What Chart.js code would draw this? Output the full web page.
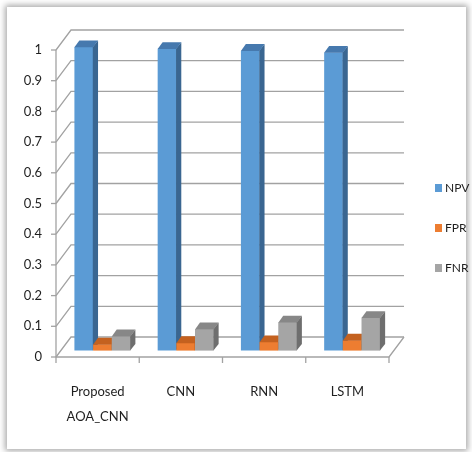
<!DOCTYPE html>
<html>
<head>
<meta charset="utf-8">
<title>NPV / FPR / FNR comparison</title>
<script src="https://cdn.jsdelivr.net/npm/chart.js@4/dist/chart.umd.min.js"></script>
<style>
  html, body { margin: 0; padding: 0; width: 472px; height: 452px; overflow: hidden; background: #ffffff; }
  #panel {
    position: absolute; left: 7px; top: 7px; width: 459px; height: 442px;
    background: #ffffff;
    box-shadow: 0 0 6px 2px rgba(0, 0, 0, 0.34);
  }
  #chart { position: absolute; left: 0; top: 0; }
</style>
</head>
<body>
<div id="panel"></div>
<canvas id="chart" width="472" height="452"></canvas>
<script>
// Models compared
const categories = [['Proposed', 'AOA_CNN'], 'CNN', 'RNN', 'LSTM'];

// Metric series
const seriesNames = ['NPV', 'FPR', 'FNR'];
const npvValues = [0.989, 0.983, 0.977, 0.971];
const fprValues = [0.020, 0.025, 0.028, 0.033];
const fnrValues = [0.047, 0.070, 0.092, 0.107];

// Value axis labels
const yTickLabels = ['0', '0.1', '0.2', '0.3', '0.4', '0.5', '0.6', '0.7', '0.8', '0.9', '1'];

const FONT = "Lato, 'Liberation Sans', Arial, sans-serif";
const TEXT_COLOR = '#1f1f1f';
const GRID_COLOR = '#a2a2a2';

// Oblique projection of the plot box: full depth offset, where the bars sit, how deep they are
const DEPTH = { x: 15, y: -20 };
const BAR_PLANE = 0.32;
const BAR_DEPTH = 0.33;

const faceColors = [
  { front: '#5b9bd5', side: '#3a6691', top: '#4679ae' },
  { front: '#ed7d31', side: '#a9551d', top: '#c4611f' },
  { front: '#a5a5a5', side: '#6e6e6e', top: '#878787' }
];

// Walls, floor and 3D columns
const depthPlugin = {
  id: 'depth3d',
  beforeDatasetsDraw(chart) {
    const ctx = chart.ctx;
    const area = chart.chartArea;
    const xs = chart.scales.x;
    const ys = chart.scales.y;

    ctx.save();
    ctx.strokeStyle = GRID_COLOR;
    ctx.lineWidth = 1.3;

    // side wall diagonals + back wall gridlines + front tick marks
    ys.ticks.forEach(t => {
      const py = ys.getPixelForValue(t.value);
      ctx.beginPath();
      ctx.moveTo(area.left, py);
      ctx.lineTo(area.left + DEPTH.x, py + DEPTH.y);
      ctx.lineTo(area.right + DEPTH.x, py + DEPTH.y);
      ctx.stroke();
      ctx.beginPath();
      ctx.moveTo(area.left - 5, py);
      ctx.lineTo(area.left, py);
      ctx.stroke();
    });

    // front value axis
    ctx.beginPath();
    ctx.moveTo(area.left, area.top);
    ctx.lineTo(area.left, area.bottom);
    ctx.stroke();

    // floor front and right edges
    ctx.beginPath();
    ctx.moveTo(area.left, area.bottom);
    ctx.lineTo(area.right, area.bottom);
    ctx.lineTo(area.right + DEPTH.x, area.bottom + DEPTH.y);
    ctx.stroke();

    // category boundary ticks
    for (let i = 0; i <= categories.length; i++) {
      const px = xs.getPixelForDecimal(i / categories.length);
      ctx.beginPath();
      ctx.moveTo(px, area.bottom);
      ctx.lineTo(px, area.bottom + 6);
      ctx.stroke();
    }

    // columns, painted left to right so nearer faces cover hidden ones
    const metas = chart.data.datasets.map((d, i) => chart.getDatasetMeta(i));
    const fx = DEPTH.x * BAR_PLANE, fy = DEPTH.y * BAR_PLANE;
    const dx = DEPTH.x * BAR_DEPTH, dy = DEPTH.y * BAR_DEPTH;
    for (let j = 0; j < categories.length; j++) {
      metas.forEach((meta, i) => {
        const bar = meta.data[j];
        const p = bar.getProps(['x', 'y', 'base', 'width'], true);
        const l = p.x - p.width / 2, r = p.x + p.width / 2;
        ctx.save();
        ctx.translate(fx, fy);
        bar.draw(ctx);
        ctx.fillStyle = faceColors[i].side;
        ctx.beginPath();
        ctx.moveTo(r - 0.3, p.y);
        ctx.lineTo(r + dx, p.y + dy);
        ctx.lineTo(r + dx, p.base + dy);
        ctx.lineTo(r - 0.3, p.base);
        ctx.closePath();
        ctx.fill();
        ctx.fillStyle = faceColors[i].top;
        ctx.beginPath();
        ctx.moveTo(l, p.y + 0.3);
        ctx.lineTo(r, p.y + 0.3);
        ctx.lineTo(r + dx, p.y + dy);
        ctx.lineTo(l + dx, p.y + dy);
        ctx.closePath();
        ctx.fill();
        ctx.restore();
      });
    }
    ctx.restore();
    return false;
  }
};

// Legend column on the right
const sideLegend = {
  id: 'sideLegend',
  afterDraw(chart) {
    const ctx = chart.ctx;
    const area = chart.chartArea;
    ctx.save();
    ctx.font = '12px ' + FONT;
    ctx.textBaseline = 'middle';
    ctx.textAlign = 'left';
    chart.data.datasets.forEach((ds, i) => {
      const cy = 188 + i * 40;
      const bx = area.right + 46;
      ctx.fillStyle = ds.backgroundColor;
      ctx.fillRect(bx, cy - 4, 7, 8);
      ctx.fillStyle = TEXT_COLOR;
      ctx.fillText(ds.label, bx + 10, cy + 0.5);
    });
    ctx.restore();
  }
};

const seriesValues = [npvValues, fprValues, fnrValues];

new Chart(document.getElementById('chart'), {
  type: 'bar',
  data: {
    labels: categories,
    datasets: seriesNames.map((name, i) => ({
      label: name,
      data: seriesValues[i],
      backgroundColor: faceColors[i].front,
      borderWidth: 0,
      barPercentage: 1.0,
      categoryPercentage: 0.673
    }))
  },
  options: {
    responsive: false,
    animation: false,
    devicePixelRatio: 1,
    layout: { padding: { top: 50, right: 83, left: 0, bottom: 0 } },
    plugins: {
      legend: { display: false },
      tooltip: { enabled: false }
    },
    scales: {
      x: {
        grid: { display: false, drawTicks: false },
        border: { display: false },
        ticks: {
          padding: 22,
          maxRotation: 0,
          autoSkip: false,
          color: TEXT_COLOR,
          font: { family: FONT, size: 13, lineHeight: '25px' }
        },
        afterFit(scale) { scale.height = 95; }
      },
      y: {
        min: 0,
        max: 1,
        grid: { display: false, drawTicks: false },
        border: { display: false },
        ticks: {
          stepSize: 0.1,
          padding: 14,
          color: TEXT_COLOR,
          font: { family: FONT, size: 13 },
          callback: (value, index) => yTickLabels[index]
        },
        afterFit(scale) { scale.width = 56; }
      }
    }
  },
  plugins: [depthPlugin, sideLegend]
});
</script>
</body>
</html>
